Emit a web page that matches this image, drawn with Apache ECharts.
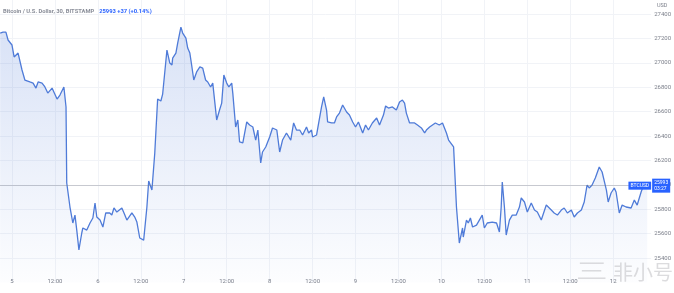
<!DOCTYPE html>
<html>
<head>
<meta charset="utf-8">
<script src="https://cdn.jsdelivr.net/npm/echarts@6/dist/echarts.min.js"></script>
<style>html,body{margin:0;padding:0;background:#fff;}#c{width:674px;height:293px;}</style>
</head>
<body>
<div id="c"></div>
<script>
// hours since Sep 5 00:00 (30-min BTC/USD, Bitstamp)
const hours = [
-3.3,-2.5,-1.7,-1.1,0,0.6,1.7,2.8,3.6,5.0,
5.9,6.7,7.3,8.4,9.2,10.0,11.2,11.7,12.6,13.4,
14.5,15.1,15.3,16.2,17.0,17.6,18.1,18.7,19.5,19.8,
20.9,21.8,22.6,23.2,23.7,24.6,25.4,26.2,27.3,27.9,
28.5,29.3,30.7,31.3,32.1,33.5,34.3,34.9,35.7,36.8,
37.7,38.2,39.1,39.9,40.7,41.6,42.1,43.3,44.1,44.7,
44.9,45.8,46.3,47.2,47.7,48.6,49.1,49.7,50.2,50.8,
51.6,52.5,53.3,54.1,54.7,55.5,56.1,56.7,57.2,58.0,
58.6,59.2,60.0,60.6,61.4,61.7,62.5,63.1,63.6,64.5,
65.6,66.4,67.3,68.1,68.7,69.5,70.0,70.9,72.0,72.8,
74.0,74.8,75.6,76.7,77.9,78.7,79.5,80.4,81.2,82.3,
82.9,83.7,84.0,85.1,86.0,86.5,87.1,87.9,88.2,89.3,
90.1,90.7,91.5,92.4,93.5,94.3,95.2,96.0,96.8,98.0,
98.8,99.6,100.7,101.9,102.7,103.8,104.4,105.2,106.3,107.4,
108.3,109.1,109.7,110.2,111.1,112.5,113.3,114.4,115.3,115.8,
116.7,118.3,119.4,120.3,121.4,122.0,
123.4,
124.2,125.0,125.9,126.1,127.0,127.5,128.1,128.7,129.8,130.6,
131.4,132.0,132.8,134.2,135.4,136.2,136.7,137.0,137.6,138.1,
139.0,139.8,140.9,141.8,142.3,143.2,144.0,145.1,146.0,146.8,
147.9,149.3,150.7,151.5,152.4,153.5,154.3,155.2,156.3,157.1,
158.0,159.1,159.9,160.7,161.3,162.1,163.0,164.1,164.9,166.1,
166.6,167.4,168.3,168.8,169.7,170.5,171.6,173.0,173.9,174.7,
175.8,176.7,177.5
];
const prices = [
27244,27252,27252,27187,27146,27048,27080,26941,26859,26843,
26834,26793,26843,26834,26802,26752,26793,26761,26703,26736,
26802,26638,26015,25818,25687,25752,25629,25466,25605,25646,
25629,25687,25728,25851,25736,25711,25654,25769,25769,25752,
25810,25777,25810,25769,25711,25769,25736,25695,25564,25547,
25818,26031,25957,26261,26703,26687,26744,27105,26998,26982,
27039,27080,27162,27293,27244,27203,27121,27080,26982,26859,
26925,26966,26957,26859,26843,26802,26834,26670,26531,26613,
26670,26900,26834,26802,26834,26752,26474,26531,26351,26343,
26515,26490,26474,26367,26449,26179,26269,26310,26392,26466,
26449,26269,26367,26425,26367,26507,26449,26449,26408,26474,
26425,26449,26392,26408,26556,26638,26720,26613,26515,26507,
26507,26556,26588,26654,26597,26572,26515,26474,26515,26425,
26490,26449,26507,26548,26490,26572,26646,26629,26638,26613,
26679,26695,26670,26588,26507,26507,26490,26466,26425,26449,
26474,26507,26490,26507,26425,26367,
26310,
25818,25523,25646,25572,25711,25687,25728,25654,25670,25711,
25752,25646,25687,25695,25687,25613,25818,26023,25818,25588,
25711,25752,25752,25818,25892,25859,25777,25851,25793,25777,
25711,25834,25793,25769,25752,25793,25810,25769,25793,25736,
25769,25793,25859,25998,25974,25998,26056,26146,26105,25957,
25859,25933,25974,25941,25769,25834,25818,25810,25875,25834,
25941,26015,25993
];
// time-axis tick positions (hours) and their labels
const tickHours = [0, 12, 24, 36, 48, 60, 72, 84, 96, 108, 120, 132, 144, 156, 168];
const tickLabels = ['5', '12:00', '6', '12:00', '7', '12:00', '8', '12:00', '9', '12:00', '10', '12:00', '11', '12:00', '12'];
const priceTicks = [25400, 25600, 25800, 26000, 26200, 26400, 26600, 26800, 27000, 27200, 27400];
const lastPrice = 25993;
const lastChange = '+37 (+0.14%)';
const barTimer = '03:27';
const symbolName = 'BTCUSD';
const titleText = 'Bitcoin / U.S. Dollar, 30, BITSTAMP';

const data = hours.map((h, i) => [h, prices[i]]);
const xMin = -3.35, xMax = 178.6;
const font = 'Roboto, "Liberation Sans", sans-serif';

const chart = echarts.init(document.getElementById('c'), null, {renderer: 'canvas'});
chart.setOption({
  animation: false,
  backgroundColor: '#ffffff',
  title: {
    left: 3, top: 3, padding: 0,
    text: '{a|' + titleText + '} {b|' + lastPrice + ' ' + lastChange + '}',
    textStyle: {
      rich: {
        a: {fontSize: 5.8, color: '#8a8e99', fontFamily: font},
        b: {fontSize: 5.8, color: '#2962ff', fontFamily: font}
      }
    }
  },
  grid: {left: 0, right: 22, top: 0, bottom: 10.6, containLabel: false},
  xAxis: {
    type: 'value', min: xMin, max: xMax, offset: -7,
    axisLine: {show: false},
    axisTick: {show: false, customValues: tickHours},
    splitLine: {show: true, lineStyle: {color: '#f1f3f7', width: 1}},
    axisLabel: {
      customValues: tickHours,
      margin: 3, fontSize: 6, color: '#7b7f8a', fontFamily: font,
      formatter: v => {
        const i = tickHours.indexOf(v);
        return i >= 0 ? tickLabels[i] : '';
      }
    }
  },
  yAxis: {
    type: 'value', position: 'right', min: 25200, max: 27515,
    axisLine: {show: false},
    axisTick: {show: false, customValues: priceTicks},
    splitLine: {show: true, lineStyle: {color: '#f1f3f7', width: 1}},
    axisLabel: {
      customValues: priceTicks,
      margin: 3, fontSize: 6, color: '#7b7f8a', fontFamily: font,
      formatter: v => String(v)
    }
  },
  graphic: [
    {type: 'text', left: 657, top: 3, style: {text: 'USD', fontSize: 5.5, fill: '#7b7f8a', fontFamily: font}},
    {type: 'text', left: 576, top: 260, scaleX: 1.5, style: {text: '三', fontSize: 21, fill: 'rgba(185,185,190,0.5)', fontFamily: '"Noto Sans CJK SC"'}, z: 100},
    {type: 'text', left: 613, top: 262, style: {text: '非小号', fontSize: 20, fill: 'rgba(185,185,190,0.5)', fontFamily: '"Noto Sans CJK SC"'}, z: 100}
  ],
  series: [{
    type: 'line',
    data: data,
    showSymbol: false,
    smooth: false,
    lineStyle: {color: '#4f7bd8', width: 1.3},
    areaStyle: {
      origin: 'start',
      color: new echarts.graphic.LinearGradient(0, 0, 0, 1, [
        {offset: 0, color: 'rgba(74,118,214,0.30)'},
        {offset: 1, color: 'rgba(74,118,214,0.02)'}
      ])
    },
    markLine: {
      silent: true, symbol: ['none', 'none'],
      label: {show: false},
      lineStyle: {color: 'rgba(120,124,136,0.35)', type: 'solid', width: 1},
      data: [{yAxis: lastPrice}]
    },
    markPoint: {
      silent: true,
      symbol: 'circle', symbolSize: 0,
      data: [
        {coord: [xMax, lastPrice], label: {
          show: true, position: 'left', distance: 0,
          formatter: symbolName, fontSize: 5, color: '#fff', fontFamily: font,
          backgroundColor: '#2962ff', padding: [2, 2, 1, 2]
        }},
        {coord: [xMax, lastPrice], label: {
          show: true, position: 'right', distance: 1,
          formatter: lastPrice + '\n' + barTimer, fontSize: 5, lineHeight: 6, color: '#fff', fontFamily: font,
          backgroundColor: '#2962ff', padding: [1, 2, 1, 2]
        }}
      ]
    }
  }]
});
</script>
</body>
</html>
